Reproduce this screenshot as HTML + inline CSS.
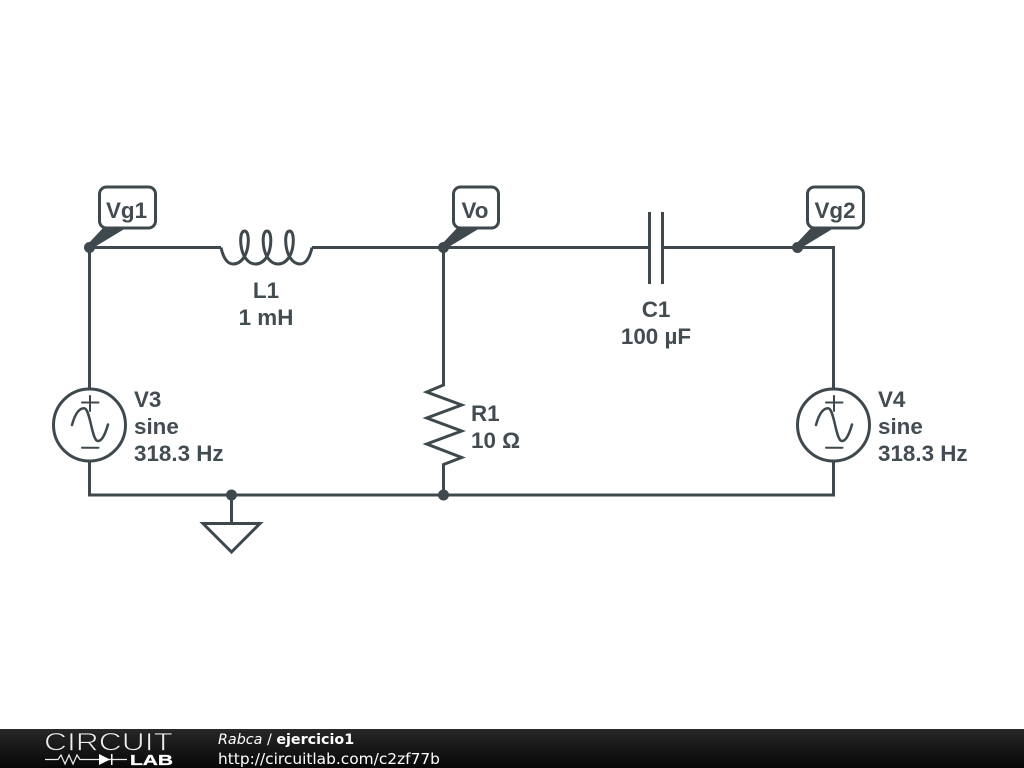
<!DOCTYPE html>
<html><head><meta charset="utf-8"><style>
html,body{margin:0;padding:0;background:#fff;width:1024px;height:768px;overflow:hidden}
svg{display:block}
.l{font-family:"Liberation Sans",Arial,sans-serif;font-size:22.400px;font-weight:bold;fill:#434c51}
.f{font-family:"DejaVu Sans",sans-serif;fill:#fff}
</style></head><body>
<svg width="1024" height="768" viewBox="0 0 1024 768" xmlns="http://www.w3.org/2000/svg">
<defs><linearGradient id="g" x1="0" y1="0" x2="0" y2="1"><stop offset="0" stop-color="#282828"/><stop offset="1" stop-color="#070707"/></linearGradient></defs>
<rect width="1024" height="768" fill="#fff"/>
<g fill="none" stroke="#3f484d" stroke-width="3" stroke-linejoin="miter">
<path d="M89.5 389V247.5H221"/>
<path d="M221 247.5C223 257 227 264 233 264C242 264 248 254 248.300 241C248.500 235 247 231 244.500 231C242 231 240.500 235 240.700 241C241 254 247 264 255.500 264C264.500 264 270.500 254 270.800 241C271 235 269.500 231 267 231C264.500 231 263 235 263.200 241C263.500 254 269.500 264 278 264C287 264 293 254 293.300 241C293.500 235 292 231 289.500 231C287 231 285.500 235 285.700 241C286 254 292 264 300 264C306 264 310 257 312 247.500"/>
<path d="M312 247.5H649.500M662.500 247.5H833.5V389"/>
<path d="M649.500 212V284M662.500 212V284"/>
<path d="M443.5 247.5V385L426.700 392L461.700 405L426.700 418L461.700 431L426.700 444L461.700 457.500L443.500 464.500V495"/>
<path d="M89.500 461V495H833.500V461"/>
<path d="M231.500 495V523.500M203 523.500H260L231.500 552Z"/>
<circle cx="89.500" cy="425" r="36"/>
<circle cx="833.500" cy="425" r="36"/>
<g stroke-width="2" stroke-linecap="round">
<path d="M82 402.500H98.500M90 396V411M82 447.700H98.500"/>
<path d="M826 402.500H842.500M834 396V411M826 447.700H842.500"/>
</g>
<g stroke-width="2.500" stroke-linecap="round">
<path d="M72 425C75 414 79 408.300 84 408.300C90.500 408.300 91.500 441 98 441C102.500 441 105.500 433 108 424.500"/>
<path d="M816 425C819 414 823 408.300 828 408.300C834.500 408.300 835.500 441 842 441C846.500 441 849.500 433 852 424.500"/>
</g>
<rect x="99.500" y="187" width="56" height="41" rx="7" fill="#fff"/>
<rect x="453.500" y="187" width="45" height="41" rx="7" fill="#fff"/>
<rect x="807.500" y="187" width="56" height="41" rx="7" fill="#fff"/>
</g>
<g fill="#3f484d">
<path d="M87 245L103 228H126L93 248Z"/>
<path d="M441 245L457 228H480L447 248Z"/>
<path d="M795 245L811 228H834L801 248Z"/>
<circle cx="89.500" cy="247.500" r="5.500"/>
<circle cx="443.500" cy="247.500" r="5.500"/>
<circle cx="797.500" cy="247.500" r="5.500"/>
<circle cx="231.500" cy="495" r="5.500"/>
<circle cx="443.500" cy="495" r="5.500"/>
</g>
<text class="l" x="126.500" y="218" text-anchor="middle">Vg1</text>
<text class="l" x="475" y="218" text-anchor="middle">Vo</text>
<text class="l" x="835" y="218" text-anchor="middle">Vg2</text>
<text class="l" x="266" y="298" text-anchor="middle">L1</text>
<text class="l" x="266" y="325" text-anchor="middle">1 mH</text>
<text class="l" x="656" y="317" text-anchor="middle">C1</text>
<text class="l" x="656" y="344" text-anchor="middle">100 µF</text>
<text class="l" x="471" y="421">R1</text>
<text class="l" x="471" y="448">10 Ω</text>
<text class="l" x="134" y="407">V3</text>
<text class="l" x="134" y="434">sine</text>
<text class="l" x="134" y="461">318.3 Hz</text>
<text class="l" x="878" y="407">V4</text>
<text class="l" x="878" y="434">sine</text>
<text class="l" x="878" y="461">318.3 Hz</text>
<rect x="0" y="729" width="1024" height="39" fill="url(#g)"/>
<text x="44" y="750.500" textLength="129" lengthAdjust="spacingAndGlyphs" font-family="Liberation Sans,sans-serif" font-size="25" fill="#eee" stroke="#1a1a1a" stroke-width=".8">CIRCUIT</text>
<text x="130" y="765" textLength="43" lengthAdjust="spacingAndGlyphs" font-family="Liberation Sans,sans-serif" font-size="15" font-weight="bold" fill="#fff" stroke="#fff" stroke-width=".3">LAB</text>
<path d="M45 759.500H58L61 755L65 764L69 755L73 764L77 755L80 759.500H127" fill="none" stroke="#eee" stroke-width="1.200"/>
<path d="M99 754V765L110 759.500Z M111 754H112.500V765H111Z" fill="#fff"/>
<text class="f" x="218" y="744" font-size="14.300"><tspan font-style="italic">Rabca</tspan> / <tspan font-weight="bold">ejercicio1</tspan></text>
<text class="f" x="218" y="764" font-size="15.400">http://circuitlab.com/c2zf77b</text>
</svg>
</body></html>
